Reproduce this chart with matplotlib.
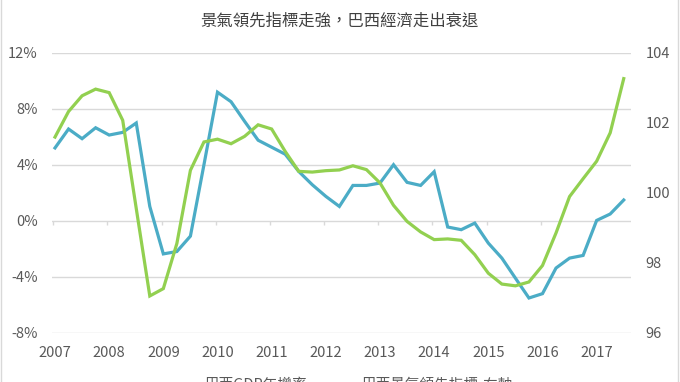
import matplotlib
matplotlib.use("Agg")
import matplotlib.pyplot as plt
from matplotlib.patches import Rectangle
import numpy as np

plt.rcParams['font.family'] = ['Noto Sans CJK TC', 'DejaVu Sans']

# ── data (quarterly, 2007Q1 .. 2017Q3) ─────────────────────
years = list(range(2007, 2018))
gdp_yoy = [5.2, 6.55, 5.86, 6.64, 6.12, 6.31, 6.98, 1.02, -2.37, -2.2, -1.1, 4.0,
           9.18, 8.5, 7.1, 5.75, 5.25, 4.75, 3.52, 2.57, 1.74, 1.02, 2.52, 2.52,
           2.69, 4.0, 2.74, 2.52, 3.5, -0.45, -0.64, -0.17, -1.6, -2.67, -4.1, -5.52,
           -5.21, -3.38, -2.67, -2.48, 0.02, 0.48, 1.48]
leading_idx = [101.59, 102.32, 102.77, 102.96, 102.86, 102.07, 99.55, 97.05, 97.26, 98.55, 100.64, 101.45,
               101.53, 101.4, 101.61, 101.94, 101.82, 101.18, 100.61, 100.59, 100.63, 100.65, 100.77, 100.66,
               100.28, 99.64, 99.18, 98.88, 98.66, 98.68, 98.64, 98.23, 97.70, 97.39, 97.34, 97.45,
               97.92, 98.85, 99.89, 100.4, 100.9, 101.71, 103.26]
left_ticks = [-8, -4, 0, 4, 8, 12]
right_ticks = [96, 98, 100, 102, 104]

title = '景氣領先指標走強，巴西經濟走出衰退'
label_gdp = '巴西GDP年增率'
label_idx = '巴西景氣領先指標-右軸'

blue = '#4BACC6'
green = '#92D050'
grid_c = '#D9D9D9'
txt_c = '#595959'

# ── figure ──────────────────────────────────────────────────
fig = plt.figure(figsize=(6.8, 3.82), dpi=100)
ax = fig.add_axes([0.0772, 0.129, 0.8508, 0.733])
ax2 = ax.twinx()

x = np.arange(len(gdp_yoy))
l1, = ax.plot(x, gdp_yoy, color=blue, lw=2.3, solid_joinstyle='miter', zorder=3)
l2, = ax2.plot(x, leading_idx, color=green, lw=2.3, solid_joinstyle='miter', zorder=3)

ax.set_xlim(-0.185, 42.54)
ax.set_ylim(-8, 12)
ax2.set_ylim(96, 104)

ax.set_yticks(left_ticks)
ax.set_yticklabels([f'{v}%' for v in left_ticks])
ax2.set_yticks(right_ticks)
ax.grid(axis='y', color=grid_c, lw=1)
ax.set_axisbelow(True)

# year labels at the bottom, tick marks on the 0% line
year_pos = [4 * k for k in range(len(years))]
ax.set_xticks(year_pos)
ax.set_xticklabels([str(y) for y in years])
ax.vlines([p - 0.125 for p in year_pos[:-1]], -0.3, 0, color=grid_c, lw=1, zorder=1)

for a in (ax, ax2):
    for s in a.spines.values():
        s.set_visible(False)
    a.tick_params(length=0, labelsize=10.5, labelcolor=txt_c)
ax.tick_params(axis='y', pad=10.5)
ax.tick_params(axis='x', pad=9.5)
ax2.tick_params(axis='y', pad=10.5)

fig.text(0.5, 0.945, title, ha='center', va='center', fontsize=11.8, color='#404040')

fig.legend([l1, l2], [label_gdp, label_idx], loc='center', bbox_to_anchor=(0.499, -0.007),
           ncol=2, frameon=False, fontsize=10.5, labelcolor=txt_c,
           handlelength=2.0, handletextpad=0.6, columnspacing=1.1)

# chart border (left / right edges visible)
fig.patches.append(Rectangle((0.0015, -0.1), 0.9955, 1.3, transform=fig.transFigure,
                             fill=False, edgecolor='#D9D9D9', lw=1))

fig.savefig('out.png', dpi=100)
